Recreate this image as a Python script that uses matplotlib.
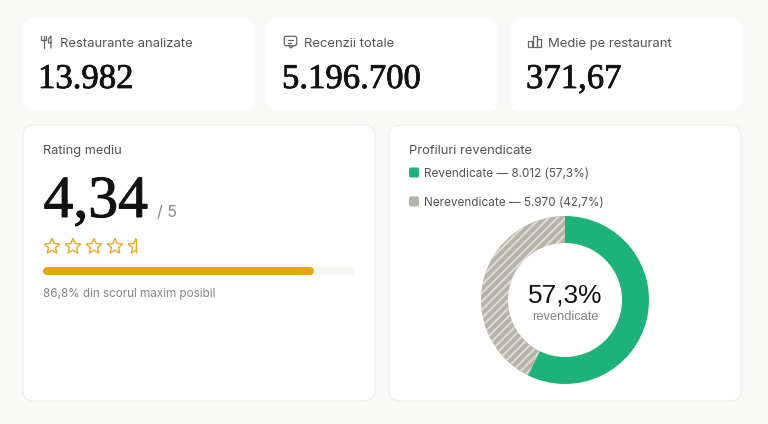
import numpy as np
import matplotlib
matplotlib.use("Agg")
import matplotlib.pyplot as plt
import matplotlib.patheffects as pe
from matplotlib.patches import FancyBboxPatch, Polygon, Rectangle

# data
kpi_labels = ["Restaurante analizate", "Recenzii totale", "Medie pe restaurant"]
kpi_values = ["13.982", "5.196.700", "371,67"]
rating = 4.34
rating_max = 5
rating_text = "4,34"
rating_note = "86,8% din scorul maxim posibil"
profile_labels = ["Revendicate", "Nerevendicate"]
profile_counts = [8012, 5970]
profile_legend = ["Revendicate — 8.012 (57,3%)", "Nerevendicate — 5.970 (42,7%)"]
profile_colors = ["#1db27c", "#b6b4aa"]

SANS = "Inter"
SERIF = "Liberation Serif"
BG = "#f9f9f7"

plt.rcParams["hatch.linewidth"] = 1.5

fig = plt.figure(figsize=(7.68, 4.24), dpi=100, facecolor=BG)
ax = fig.add_axes([0, 0, 1, 1])
ax.set_xlim(0, 768)
ax.set_ylim(424, 0)
ax.axis("off")


def card(x0, y0, x1, y1, border=None, r=11):
    ax.add_patch(FancyBboxPatch((x0 + r, y0 + r), x1 - x0 - 2 * r, y1 - y0 - 2 * r,
                                boxstyle="round,pad=%d,rounding_size=%d" % (r, r),
                                fc="#fefefe", ec=border or "none", lw=0.5))


def ink(txt, w=0.35, color="#111111"):
    txt.set_path_effects([pe.withStroke(linewidth=w, foreground=color)])


# top cards
kpi_x = [23, 266, 510]
for i in range(3):
    x = kpi_x[i]
    card(x, 18, x + 232, 111)
    ax.text(x + [37, 38, 38][i], 47, kpi_labels[i], family=SANS, fontsize=9.4, color="#555555", va="baseline")
    ink(ax.text(x + [15, 16, 16][i], 88, kpi_values[i], family=SERIF, fontsize=25, color="#111111", va="baseline"), 0.55)

# icons
ic = dict(color="#666666", lw=0.9, solid_capstyle="round")
# fork and knife
ax.plot([41, 41, 46, 46], [36, 40, 40, 36], **ic)
ax.plot([43.5, 43.5], [36, 48], **ic)
ax.plot([51, 51, 48.5, 48.5, 51], [48, 36, 39, 43, 43], **ic)
# speech bubble
ax.add_patch(FancyBboxPatch((285.5, 37.5), 10, 7, boxstyle="round,pad=1.2,rounding_size=2", fc="none", ec="#666666", lw=0.9))
ax.plot([288, 293], [40, 40], **ic)
ax.plot([288, 291], [43, 43], **ic)
ax.plot([289, 291, 293], [46, 48, 46], **ic)
# small bars
for bx, by in [(527.5, 41), (532.5, 36), (537, 39)]:
    ax.add_patch(Rectangle((bx, by), 4, 47 - by, fc="none", ec="#666666", lw=0.9))

# bottom cards
card(23, 125, 375, 401, border="#e6e6e2")
card(389, 125, 741, 401, border="#e6e6e2")

# rating card
ax.text(43, 154, "Rating mediu", family=SANS, fontsize=9.2, color="#555555", va="baseline")
ink(ax.text(43.5, 217, rating_text, family=SERIF, fontsize=43, color="#111111", va="baseline"), 0.7)
ax.text(157, 217, "/ %d" % rating_max, family=SANS, fontsize=11.5, color="#8a8a8a", va="baseline")

# stars
angles = np.deg2rad(90 + 36 * np.arange(10))
radii = np.where(np.arange(10) % 2 == 0, 8.2, 3.7)
star_x = np.cos(angles) * radii
star_y = -np.sin(angles) * radii
for i in range(rating_max):
    cx = 52 + 21 * i
    star = Polygon(np.c_[cx + star_x, 246.5 + star_y], closed=True, fc="none", ec="#e6a92e", lw=1.0, joinstyle="miter")
    ax.add_patch(star)
    if i == rating_max - 1:
        star.set_clip_path(Rectangle((cx - 10, 235), 10, 22, transform=ax.transData))
        ax.plot([cx, cx], [246.5 - 8, 246.5 + 5], color="#e6a92e", lw=1.0)

# progress bar
bar = fig.add_axes([43 / 768, 1 - 279 / 424, 312 / 768, 16 / 424])
bar.set_xlim(0, rating_max)
bar.set_ylim(-1, 1)
bar.axis("off")
cap = 4 / 312 * rating_max
bar.plot([cap, rating_max - cap], [0, 0], color="#f6f6f3", lw=5.8, solid_capstyle="round")
bar.plot([cap, rating - cap], [0, 0], color="#e8a50c", lw=5.8, solid_capstyle="round")

ax.text(43, 297, rating_note, family=SANS, fontsize=8.4, color="#858585", va="baseline")

# profiles card
ax.text(409, 154, "Profiluri revendicate", family=SANS, fontsize=9.3, color="#555555", va="baseline")
for i, y in enumerate([172.5, 201.5]):
    ax.add_patch(FancyBboxPatch((410.5, y - 3.5), 7, 7, boxstyle="round,pad=1.5,rounding_size=2", fc=profile_colors[i], ec="none"))
    ax.text(424, y + 4.5, profile_legend[i], family=SANS, fontsize=8.45, color="#555555", va="baseline")

# donut
pie_ax = fig.add_axes([(565 - 84) / 768, 1 - 384 / 424, 168 / 768, 168 / 424])
wedges, _ = pie_ax.pie(profile_counts, colors=profile_colors, startangle=90, counterclock=False,
                       radius=1, wedgeprops=dict(width=1 - 57 / 84, linewidth=0))
wedges[1].set_hatch("////")
wedges[1].set_edgecolor("#dddbd3")
pie_ax.set_xlim(-1, 1)
pie_ax.set_ylim(-1, 1)

pct = profile_counts[0] / sum(profile_counts) * 100
ax.text(565.5, 302, ("%.1f%%" % pct).replace(".", ","), family="Liberation Sans", fontsize=18.9, color="#111111", ha="center", va="baseline")
ax.text(565.5, 320, "revendicate", family="Liberation Sans", fontsize=9.3, color="#858585", ha="center", va="baseline")

fig.savefig("out.png", dpi=100, facecolor=BG)
